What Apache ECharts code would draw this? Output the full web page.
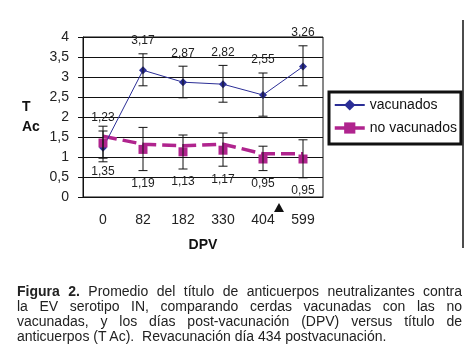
<!DOCTYPE html>
<html>
<head>
<meta charset="utf-8">
<script src="https://cdn.jsdelivr.net/npm/echarts@6/dist/echarts.min.js"></script>
<style>
  body { margin:0; background:#fff; }
  #wrap { position:relative; width:473px; height:357px; }
  #chart { width:473px; height:357px; }
  #caption { position:absolute; left:17px; top:284px; width:445px; font-family:"Liberation Sans", Arial, sans-serif; font-size:14px; line-height:15px; color:#222; }
  #caption div { text-align:justify; text-align-last:justify; white-space:nowrap; }
  #caption div.last { text-align-last:left; }
</style>
</head>
<body>
<div id="wrap">
  <div id="chart"></div>
  <div id="caption">
    <div><b>Figura 2.</b> Promedio del título de anticuerpos neutralizantes contra</div>
    <div>la EV serotipo IN, comparando cerdas vacunadas con las no</div>
    <div>vacunadas, y los días post-vacunación (DPV) versus título de</div>
    <div class="last">anticuerpos (T Ac).&nbsp; Revacunación día 434 postvacunación.</div>
  </div>
</div>
<script>
// datos
var dias = ['0', '82', '182', '330', '404', '599'];
var vacunados = [1.23, 3.17, 2.87, 2.82, 2.55, 3.26];
var vacLow = [0.88, 2.78, 2.48, 2.37, 2.02, 2.78];
var vacHigh = [1.65, 3.58, 3.27, 3.29, 3.10, 3.78];
var noVacunados = [1.35, 1.19, 1.13, 1.17, 0.95, 0.95];
var noVacLow = [0.97, 0.66, 0.70, 0.77, 0.66, 0.48];
var noVacHigh = [1.77, 1.74, 1.55, 1.60, 1.27, 1.43];
// linea discontinua (desplazada respecto a los marcadores en el original)
var noVacLinea = [1.52, 1.32, 1.28, 1.32, 1.08, 1.08];
var yTicks = [0, 0.5, 1, 1.5, 2, 2.5, 3, 3.5, 4];

var azul = '#2b2e96';
var rosa = '#b0248e';
var fuente = '"Liberation Sans", Arial, sans-serif';

function coma(v) { return String(v).replace('.', ','); }

// barras de error + etiqueta de valor
function errSeries(name, vals, lows, highs, arriba) {
  var d = vals.map(function (v, i) { return [i, lows[i], highs[i], v]; });
  return {
    name: name, type: 'custom', data: d, z: 5, silent: true,
    renderItem: function (params, api) {
      var i = api.value(0);
      var pLo = api.coord([i, api.value(1)]);
      var pHi = api.coord([i, api.value(2)]);
      var x = pLo[0], cap = 4.5;
      var st = { stroke: '#111', lineWidth: 1 };
      var txtY = arriba ? pHi[1] - 13 : pLo[1] + 13;
      return {
        type: 'group',
        children: [
          { type: 'line', shape: { x1: x, y1: pLo[1], x2: x, y2: pHi[1] }, style: st },
          { type: 'line', shape: { x1: x - cap, y1: pLo[1], x2: x + cap, y2: pLo[1] }, style: st },
          { type: 'line', shape: { x1: x - cap, y1: pHi[1], x2: x + cap, y2: pHi[1] }, style: st },
          { type: 'text', style: { text: api.value(3).toFixed(2).replace('.', ','), x: x, y: txtY,
              align: 'center', verticalAlign: 'middle', font: '12px ' + fuente, fill: '#222' } }
        ]
      };
    }
  };
}

var chart = echarts.init(document.getElementById('chart'));
var option = {
  animation: false,
  grid: { left: 83, top: 37, width: 240, height: 160, show: true, borderColor: '#111', borderWidth: 1 },
  legend: {
    orient: 'vertical', left: 329, top: 92,
    backgroundColor: '#fff', borderColor: '#111', borderWidth: 3,
    padding: [6, 4, 9, 4], itemGap: 9, itemWidth: 30, itemHeight: 14,
    textStyle: { fontFamily: fuente, fontSize: 14, color: '#111' },
    data: [
      { name: 'vacunados' },
      { name: 'no vacunados', lineStyle: { opacity: 1, type: [14, 5], width: 3.5, color: rosa } }
    ]
  },
  xAxis: {
    type: 'category', data: dias,
    name: 'DPV', nameLocation: 'middle', nameGap: 41,
    nameTextStyle: { fontFamily: fuente, fontSize: 14, fontWeight: 'bold', color: '#111' },
    axisLine: { lineStyle: { color: '#111' } },
    axisTick: { length: 4, lineStyle: { color: '#111' } },
    axisLabel: { fontFamily: fuente, fontSize: 14, color: '#222', margin: 16 }
  },
  yAxis: {
    type: 'value', min: 0, max: 4, interval: 0.5,
    name: 'T\nAc', nameLocation: 'middle', nameGap: 53, nameRotate: 0,
    nameTextStyle: { fontFamily: fuente, fontSize: 14, fontWeight: 'bold', color: '#111', lineHeight: 20, align: 'left', padding: [0, 0, 0, -8] },
    axisLine: { show: true, lineStyle: { color: '#111' } },
    axisTick: { show: true, length: 5, lineStyle: { color: '#111' } },
    splitLine: { lineStyle: { color: '#111' } },
    axisLabel: { fontFamily: fuente, fontSize: 14, color: '#222', margin: 14,
      formatter: function (v) { return yTicks.indexOf(v) >= 0 ? coma(v) : ''; } }
  },
  series: [
    { name: 'no vacunados linea', type: 'line', data: noVacLinea, symbol: 'none', silent: true, z: 2,
      lineStyle: { color: rosa, width: 3.5, type: [14, 6] } },
    { name: 'vacunados', type: 'line', data: vacunados, symbol: 'diamond', symbolSize: 8, z: 4,
      itemStyle: { color: azul }, lineStyle: { color: azul, width: 1 } },
    { name: 'no vacunados', type: 'line', data: noVacunados, symbol: 'rect', symbolSize: 9, z: 4,
      itemStyle: { color: rosa }, lineStyle: { color: rosa, width: 3.5, opacity: 0 } },
    errSeries('err vac', vacunados, vacLow, vacHigh, true),
    errSeries('err novac', noVacunados, noVacLow, noVacHigh, false)
  ]
};
chart.setOption(option);

// triangulo de revacunacion (dia 434) y marco derecho
var p = chart.convertToPixel({ xAxisIndex: 0 }, 4);
var base = chart.convertToPixel({ yAxisIndex: 0 }, 0);
var tx = p + 16;
chart.setOption({
  graphic: [
    { type: 'polygon', shape: { points: [[tx, base + 6], [tx - 5, base + 15], [tx + 5, base + 15]] }, style: { fill: '#111' } },
    { type: 'line', shape: { x1: 463, y1: 20, x2: 463, y2: 248 }, style: { stroke: '#111', lineWidth: 1.5 } }
  ]
});
</script>
</body>
</html>
